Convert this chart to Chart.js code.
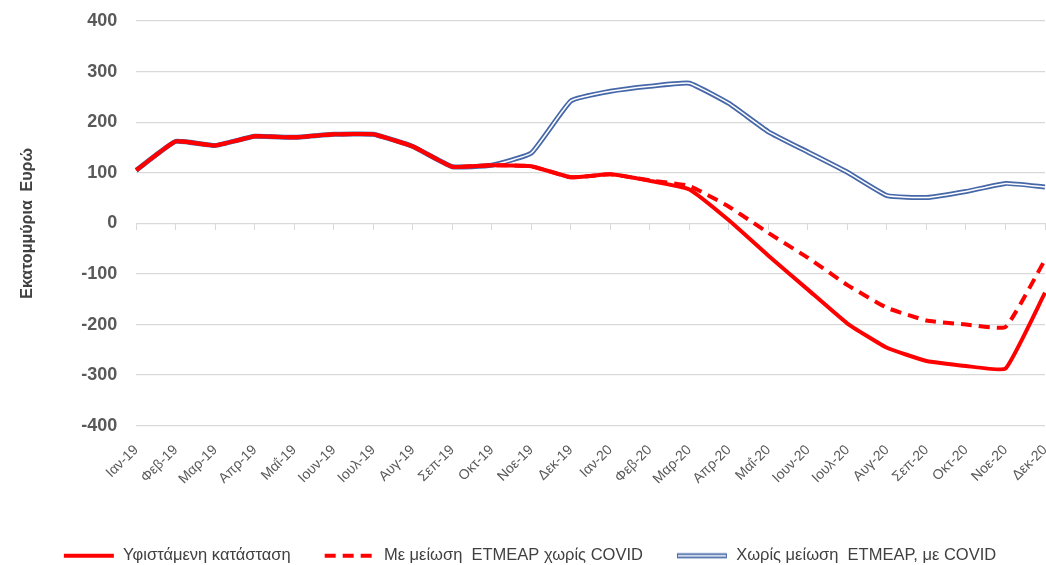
<!DOCTYPE html>
<html>
<head>
<meta charset="utf-8">
<script src="https://cdn.jsdelivr.net/npm/chart.js@4/dist/chart.umd.min.js"></script>
<style>
html,body{margin:0;padding:0;background:#fff;}
#wrap{width:1046px;height:565px;position:relative;}
</style>
</head>
<body>
<div id="wrap"><canvas id="c" width="1046" height="565"></canvas></div>
<script>
const categories = ['Ιαν-19','Φεβ-19','Μαρ-19','Απρ-19','Μαΐ-19','Ιουν-19','Ιουλ-19','Αυγ-19','Σεπ-19','Οκτ-19','Νοε-19','Δεκ-19',
  'Ιαν-20','Φεβ-20','Μαρ-20','Απρ-20','Μαΐ-20','Ιουν-20','Ιουλ-20','Αυγ-20','Σεπ-20','Οκτ-20','Νοε-20','Δεκ-20'];
const existingValues = [105,162,154,172,170,176,176,152,112,115,113,91,97,84,67,6,-64,-131,-198,-246,-272,-282,-287,-137];
const reducedNoCovidValues = [105,162,154,172,170,176,176,152,112,115,113,91,97,85,74,33,-19,-68,-122,-167,-192,-200,-205,-72];
const noReductionCovidValues = [105,162,154,172,170,176,176,152,112,115,139,242,261,271,277,237,181,141,101,55,51,63,79,72];
const seriesNames = ['Υφιστάμενη κατάσταση','Με μείωση  ETMEAP χωρίς COVID','Χωρίς μείωση  ETMEAP, με COVID'];
const yTickValues = [-400,-300,-200,-100,0,100,200,300,400];
const yTitle = 'Εκατομμύρια  Ευρώ';

const RED = '#FF0000';
const BLUE = '#4668A8';
const FONT = "'Liberation Sans',Arial,sans-serif";

function legendIcon(kind){
  const cv = document.createElement('canvas');
  cv.width = 52; cv.height = 10;
  const g = cv.getContext('2d');
  if (kind === 'solid'){
    g.strokeStyle = RED; g.lineWidth = 4; g.beginPath(); g.moveTo(1,5); g.lineTo(51,5); g.stroke();
  } else if (kind === 'dash'){
    g.strokeStyle = RED; g.lineWidth = 4; g.setLineDash([11,7]); g.beginPath(); g.moveTo(1,5); g.lineTo(51,5); g.stroke();
  } else {
    g.strokeStyle = BLUE; g.lineWidth = 5; g.beginPath(); g.moveTo(1,5); g.lineTo(51,5); g.stroke();
    g.strokeStyle = '#fff'; g.lineWidth = 1.6; g.beginPath(); g.moveTo(2,5); g.lineTo(50,5); g.stroke();
  }
  return cv;
}

new Chart(document.getElementById('c'), {
  type: 'line',
  data: {
    labels: categories,
    datasets: [
      {label: seriesNames[0], data: existingValues, borderColor: RED, backgroundColor: RED, borderWidth: 4,
       pointRadius: 0, tension: 0.12, pointStyle: legendIcon('solid')},
      {label: seriesNames[1], data: reducedNoCovidValues, borderColor: RED, backgroundColor: RED, borderWidth: 4,
       borderDash: [11,7], pointRadius: 0, tension: 0.12, pointStyle: legendIcon('dash')},
      {label: '_inner', data: noReductionCovidValues, borderColor: '#ffffff', borderWidth: 1.5,
       pointRadius: 0, tension: 0.12},
      {label: seriesNames[2], data: noReductionCovidValues, borderColor: BLUE, backgroundColor: BLUE, borderWidth: 5,
       pointRadius: 0, tension: 0.12, pointStyle: legendIcon('double')}
    ]
  },
  options: {
    responsive: false,
    animation: false,
    layout: {padding: {top: 21, right: 1, left: 14, bottom: -9}},
    plugins: {
      legend: {
        position: 'bottom',
        labels: {
          usePointStyle: true, pointStyleWidth: 52, boxHeight: 10,
          color: '#404040', font: {family: FONT, size: 16.5}, padding: 33,
          filter: item => item.text !== '_inner'
        }
      },
      tooltip: {enabled: false}
    },
    scales: {
      x: {
        grid: {display: false},
        border: {display: false},
        ticks: {color: '#595959', font: {family: FONT, size: 14}, maxRotation: 45, minRotation: 45, autoSkip: false, padding: 8},
        afterFit: s => { s.paddingRight = 0; s.height += 19; }
      },
      x0: {
        type: 'category',
        position: {y: 0},
        grid: {drawOnChartArea: false, drawTicks: true, tickLength: 6, color: '#d9d9d9'},
        border: {display: true, color: '#d9d9d9', width: 1},
        ticks: {display: false},
        afterFit: s => { s.height = 0; s.paddingLeft = 0; s.paddingRight = 0; s.paddingTop = 0; s.paddingBottom = 0; }
      },
      y: {
        min: -400, max: 400,
        afterBuildTicks: s => { s.ticks = yTickValues.map(v => ({value: v})); },
        grid: {color: '#d9d9d9', lineWidth: 1.3, drawTicks: false},
        border: {display: false},
        ticks: {color: '#595959', font: {family: FONT, size: 18, weight: 'bold'}, padding: 19},
        title: {display: true, text: yTitle, color: '#404040', font: {family: FONT, size: 16, weight: 'bold'}, padding: {bottom: 25}},
        afterFit: s => { s.paddingTop = 0; s.paddingBottom = 0; }
      }
    }
  }
});
</script>
</body>
</html>
